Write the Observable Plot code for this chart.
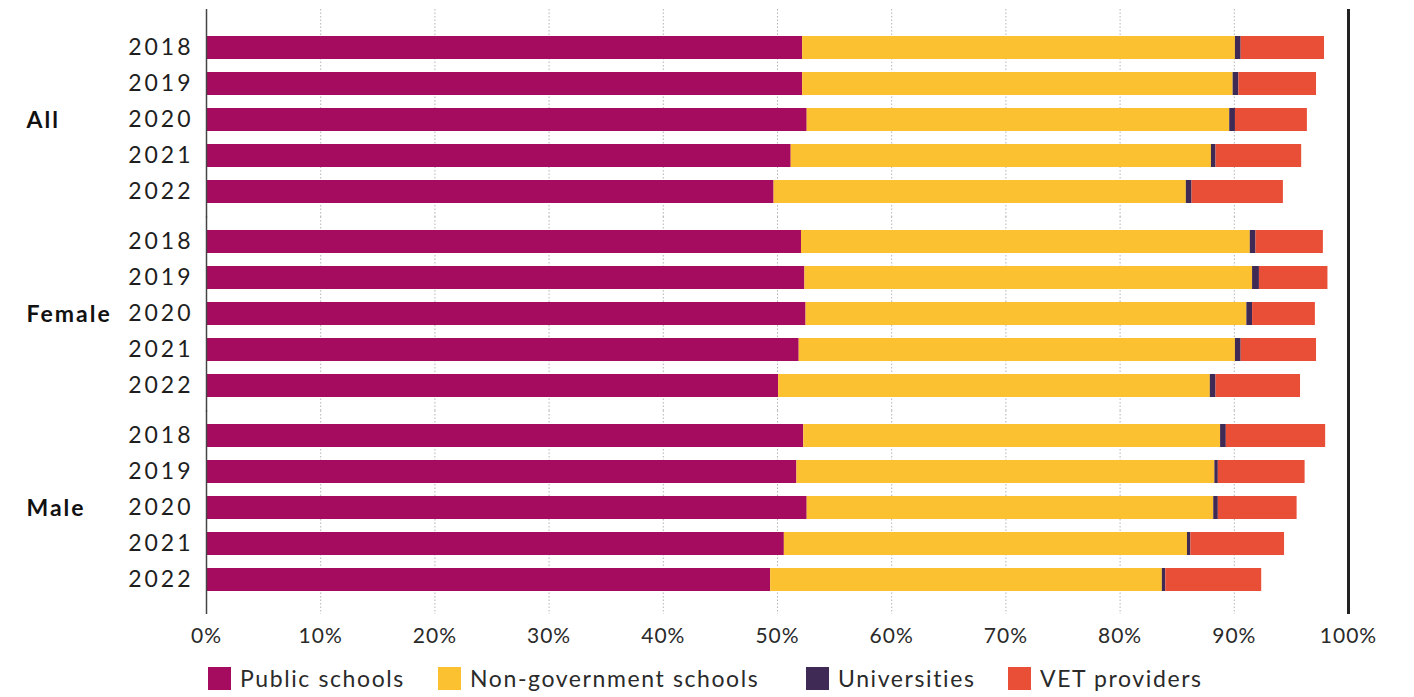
<!DOCTYPE html>
<html>
<head>
<meta charset="utf-8">
<script src="https://cdn.jsdelivr.net/npm/d3@7"></script>
<script src="https://cdn.jsdelivr.net/npm/@observablehq/plot@0.6"></script>
<style>
  html, body { margin: 0; padding: 0; background: #fff; }
  body { width: 1414px; height: 697px; overflow: hidden; font-family: Lato, "Noto Sans", sans-serif; }
  #legend { display: flex; align-items: center; margin-left: 208px; margin-top: 9px; font-size: 23px; color: #2a2a2a; letter-spacing: 1.6px; font-weight: 400; }
  #legend .item { display: flex; align-items: center; }
  #legend .sw { width: 23px; height: 23px; margin-right: 9px; }
  #chart svg g[aria-label="y-axis tick label"] text { letter-spacing: 3px; }
  #chart svg g[aria-label="x-axis tick label"] text { letter-spacing: 1px; }
  #chart svg g[aria-label="text"] text { letter-spacing: 2px; }
</style>
</head>
<body>
<div id="chart"></div>
<div id="legend"></div>
<script>
const groups = ["All", "Female", "Male"];
const years = ["2018", "2019", "2020", "2021", "2022"];
const sectors = ["Public schools", "Non-government schools", "Universities", "VET providers"];
const colors = ["#A50B5E", "#FBC131", "#3E2A55", "#E94F37"];
const xTicks = [0, 10, 20, 30, 40, 50, 60, 70, 80, 90, 100];

// values in %, order: All 2018..2022, Female 2018..2022, Male 2018..2022
const publicSchools = [52.2, 52.2, 52.6, 51.2, 49.7, 52.1, 52.4, 52.5, 51.9, 50.1, 52.3, 51.7, 52.6, 50.6, 49.4];
const nonGovSchools = [37.9, 37.7, 37.0, 36.8, 36.1, 39.3, 39.2, 38.6, 38.2, 37.8, 36.5, 36.6, 35.6, 35.3, 34.3];
const universities  = [0.5, 0.5, 0.5, 0.4, 0.5, 0.5, 0.6, 0.5, 0.5, 0.5, 0.5, 0.3, 0.4, 0.3, 0.3];
const vetProviders  = [7.3, 6.8, 6.3, 7.5, 8.0, 5.9, 6.0, 5.5, 6.6, 7.4, 8.7, 7.6, 6.9, 8.2, 8.4];

const series = [publicSchools, nonGovSchools, universities, vetProviders];
const rows = [];
groups.forEach((g, gi) => {
  years.forEach((yr, yi) => {
    const i = gi * years.length + yi;
    sectors.forEach((s, si) => {
      rows.push({group: g, year: yr, sector: s, value: series[si][i]});
    });
  });
});

// vertical rules drawn per facet, stretched to close the small gaps between facets
function facetRules(values, opts) {
  return groups.map((g, i) => Plot.ruleX(values, {
    fy: () => g,
    insetTop: i === 0 ? -15 : -1.5,
    insetBottom: i === groups.length - 1 ? -10 : -1.5,
    ...opts
  }));
}

const chart = Plot.plot({
  width: 1414,
  height: 655,
  marginLeft: 206,
  marginRight: 66,
  marginTop: 8,
  marginBottom: 40,
  style: {fontFamily: "Lato, 'Noto Sans', sans-serif", background: "#fff"},
  x: {domain: [0, 100], label: null},
  y: {domain: years, paddingInner: 0.36, paddingOuter: 0.285, label: null},
  fy: {domain: groups, paddingInner: 0.0103, paddingOuter: 0.064, align: 0.6, axis: null, label: null},
  color: {domain: sectors, range: colors},
  marks: [
    ...facetRules(xTicks.slice(1, -1), {stroke: "#b5b5b5", strokeWidth: 1, strokeDasharray: "1.5,2"}),
    Plot.barX(rows, Plot.stackX({x: "value", y: "year", fy: "group", fill: "sector"})),
    ...facetRules([0], {stroke: "#444", strokeWidth: 1.5}),
    ...facetRules([100], {stroke: "#222", strokeWidth: 3}),
    Plot.axisY({tickSize: 0, tickPadding: 13, fontSize: 23, fill: "#1e1e1e", fontWeight: 400, label: null}),
    Plot.axisX({ticks: xTicks, tickFormat: d => d + "%", tickSize: 0, tickPadding: 24, fontSize: 21, fill: "#2a2a2a", fontWeight: 400, label: null}),
    Plot.text(groups, {fy: d => d, text: d => d, frameAnchor: "left", dx: -180, textAnchor: "start", fontSize: 23, fontWeight: "bold", fill: "#111"})
  ]
});
document.getElementById("chart").appendChild(chart);

const legend = document.getElementById("legend");
const itemWidths = [230, 368, 202, null];
sectors.forEach((s, i) => {
  const item = document.createElement("div");
  item.className = "item";
  if (itemWidths[i]) item.style.width = itemWidths[i] + "px";
  const sw = document.createElement("span");
  sw.className = "sw";
  sw.style.background = colors[i];
  const lab = document.createElement("span");
  lab.textContent = s;
  item.appendChild(sw);
  item.appendChild(lab);
  legend.appendChild(item);
});
</script>
</body>
</html>
